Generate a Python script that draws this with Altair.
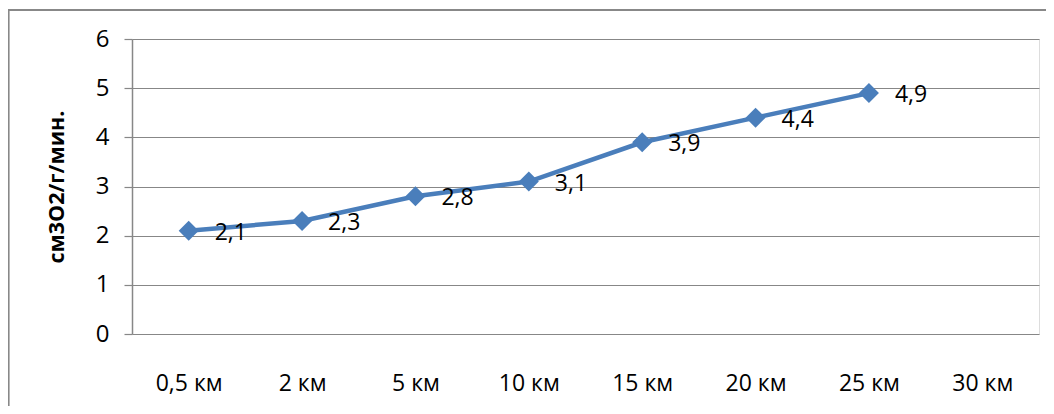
import altair as alt
import pandas as pd

categories = ["0,5 км", "2 км", "5 км", "10 км", "15 км", "20 км", "25 км", "30 км"]
values = [2.1, 2.3, 2.8, 3.1, 3.9, 4.4, 4.9, None]
labels = ["2,1", "2,3", "2,8", "3,1", "3,9", "4,4", "4,9", ""]

df = pd.DataFrame({"cat": categories, "val": values, "lab": labels})

FONT = "Open Sans"
GRID = "#878787"
BLUE = "#4A7EBB"
W, H = 907, 295

x_enc = alt.X("cat:N", sort=categories,
              scale=alt.Scale(domain=categories, paddingInner=0, paddingOuter=0),
              axis=alt.Axis(title=None, labelAngle=0, ticks=False, domain=False, grid=False,
                            labelPadding=38, labelFontSize=23, labelFont=FONT, labelColor="#000000"))
y_enc = alt.Y("val:Q", scale=alt.Scale(domain=[0, 6]),
              axis=alt.Axis(title="см3О2/г/мин.", values=[0, 1, 2, 3, 4, 5, 6], tickSize=8,
                            tickColor=GRID, domainColor=GRID, gridColor=GRID, grid=True,
                            gridWidth=1.2, domainWidth=1.5, tickWidth=1.2,
                            labelPadding=15, labelFontSize=24, labelFont=FONT, labelColor="#000000",
                            titleFont=FONT, titleFontSize=21.5, titleFontWeight="bold",
                            titleColor="#000000", titlePadding=27))

base = alt.Chart(df).encode(x=x_enc, y=y_enc)

frame = alt.Chart(df).mark_rect(fill=None, stroke="#888888", strokeWidth=1.2, clip=False).encode(
    x=alt.value(-123.5), x2=alt.value(W + 300), y=alt.value(-29), y2=alt.value(H + 300)
)

line = base.transform_filter("datum.val != null").mark_line(color=BLUE, strokeWidth=4.5)
pts = base.transform_filter("datum.val != null").mark_point(
    shape="diamond", filled=True, size=400, color=BLUE, opacity=1)
txt = base.transform_filter("datum.val != null").mark_text(
    align="left", baseline="middle", dx=26, dy=2, fontSize=23, font=FONT, color="#000000"
).encode(text="lab:N")

chart = alt.layer(frame, line, pts, txt).properties(
    width=W, height=H,
    autosize=alt.AutoSizeParams(type="none"),
    padding={"left": 124, "top": 31, "right": 7, "bottom": 72},
).configure_view(stroke=None).configure(background="white")

chart.save("out.html", embed_options={"renderer": "svg", "actions": False})
